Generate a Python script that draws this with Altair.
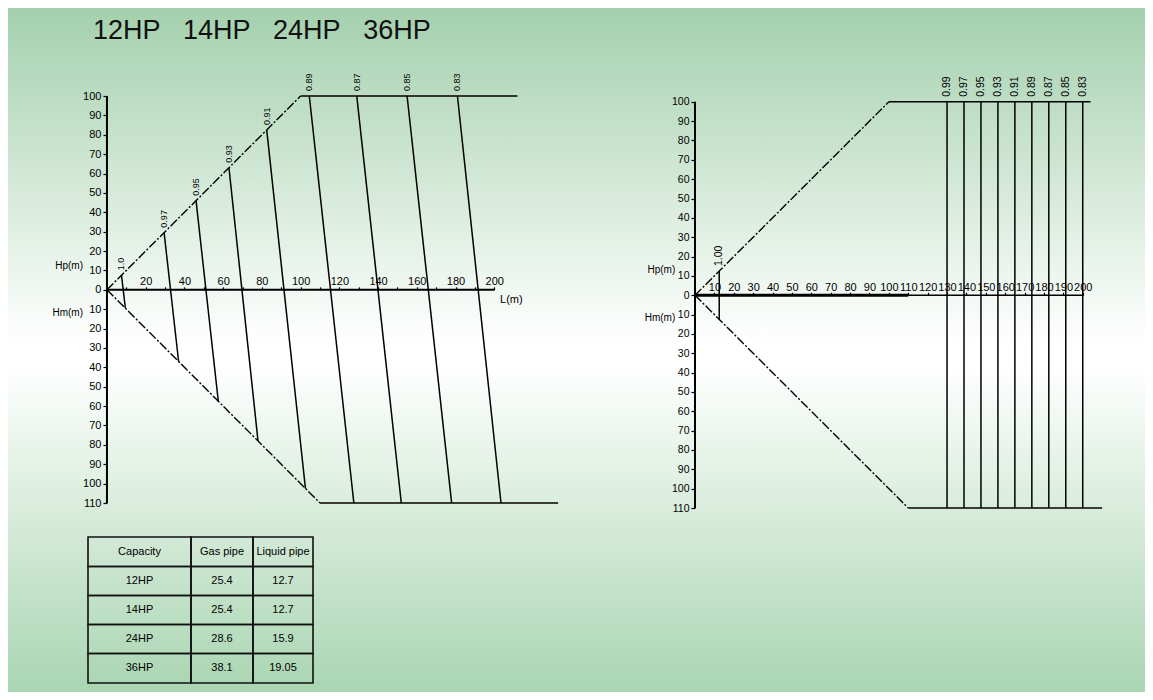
import altair as alt
import pandas as pd

FONT = "Liberation Sans"

# ---------------- data ----------------
TITLE_TEXT = "12HP\u00a0\u00a0\u00a014HP\u00a0\u00a0\u00a024HP\u00a0\u00a0\u00a036HP"

# left diagram: boundary polylines (L in m, Hp positive, Hm negative)
L_UP_X = [0, 100, 212]
L_UP_Y = [0, 100, 100]
L_LO_X = [0, 110, 233]
L_LO_Y = [0, -110, -110]
L_LABELS = ["1.0", "0.97", "0.95", "0.93", "0.91", "0.89", "0.87", "0.85", "0.83"]
L_TOP_X = [7.5, 29.5, 46, 63, 82.5, 104.5, 129, 155, 181]
L_TOP_Y = [7.5, 29.5, 46, 63, 82.5, 100, 100, 100, 100]
L_BOT_X = [9.5, 37, 57.5, 78, 102.5, 127.5, 152, 178, 203.5]
L_BOT_Y = [-9.5, -37, -57.5, -78, -102.5, -110, -110, -110, -110]

# right diagram
R_UP_X = [0, 100, 204]
R_UP_Y = [0, 100, 100]
R_LO_X = [0, 110, 210]
R_LO_Y = [0, -110, -110]
R_LABELS = ["1.00", "0.99", "0.97", "0.95", "0.93", "0.91", "0.89", "0.87", "0.85", "0.83"]
R_LINE_X = [12.5, 130, 138.75, 147.5, 156.25, 165, 173.75, 182.5, 191.25, 200]
R_TOP_Y = [12.5, 100, 100, 100, 100, 100, 100, 100, 100, 100]
R_BOT_Y = [-12.5, -110, -110, -110, -110, -110, -110, -110, -110, -110]

Y_TICKS = list(range(-110, 101, 10))
L_X_TICKS = list(range(0, 201, 10))
R_X_TICKS = list(range(0, 201, 10))

TABLE_HEAD = ["Capacity", "Gas pipe", "Liquid pipe"]
CAPACITY = ["12HP", "14HP", "24HP", "36HP"]
GAS_PIPE = ["25.4", "25.4", "28.6", "38.1"]
LIQUID_PIPE = ["12.7", "12.7", "15.9", "19.05"]

# ---------------- layout constants ----------------
LW, LH = 474, 407
RW, RH = 411, 412
L_XDOM = [-9.8, 235]
L_YDOM = [-110, 100]
R_XDOM = [0, 212]
R_YDOM = [-110, 103]
TW, TH = 225, 146
COL_EDGES = [0, 103, 165, 225]
ROW_EDGES = [0, 29.5, 58.5, 87.5, 116.5, 146]


def segs(xs, ys):
    rows = []
    for i in range(len(xs) - 1):
        rows.append(dict(x=xs[i], y=ys[i], x2=xs[i + 1], y2=ys[i + 1],
                         kind="diag" if ys[i] != ys[i + 1] else "flat"))
    return rows


common_axis = dict(domain=False, grid=False, title=None, tickColor="black",
                   tickWidth=1.2, labelColor="black", labelFont=FONT,
                   labelOverlap=False, labelFlush=False, zindex=1)


def make_panel(width, height, xdom, ydom, x_axis, y_axis, bound_df, lines_df,
               label_size, axis_lines_df, ann_right_df, ann_left_df, extra=None):
    xs = alt.Scale(domain=xdom, nice=False, zero=False)
    ys = alt.Scale(domain=ydom, nice=False, zero=False)

    def X(f):
        return alt.X(f, type="quantitative", scale=xs, axis=x_axis)

    def Y(f):
        return alt.Y(f, type="quantitative", scale=ys, axis=y_axis)

    layers = []
    if extra is not None:
        layers.extend(extra["before"])
    diag = alt.Chart(bound_df).transform_filter(alt.datum.kind == "diag").mark_rule(
        color="black", strokeWidth=1.4, strokeDash=[9, 2, 2, 2]
    ).encode(x=X("x"), y=Y("y"), x2="x2", y2="y2")
    flat = alt.Chart(bound_df).transform_filter(alt.datum.kind == "flat").mark_rule(
        color="black", strokeWidth=1.5
    ).encode(x=X("x"), y=Y("y"), x2="x2", y2="y2")
    lines = alt.Chart(lines_df).mark_rule(color="black", strokeWidth=1.5).encode(
        x=X("tx"), y=Y("ty"), x2="bx", y2="by")
    labels = alt.Chart(lines_df).mark_text(
        angle=270, align="left", baseline="middle", dx=5, fontSize=label_size,
        color="black", font=FONT
    ).encode(x=X("tx"), y=Y("ty"), text="label:N")
    axl = alt.Chart(axis_lines_df).mark_rule(color="black").encode(
        x=X("x"), y=Y("y"), x2="x2", y2="y2",
        strokeWidth=alt.StrokeWidth("w:Q", scale=None))
    annR = alt.Chart(ann_right_df).mark_text(
        align="right", baseline="middle", fontSize=10, color="black", font=FONT
    ).encode(x=X("x"), y=Y("y"), text="t:N")
    layers += [diag, flat, lines, labels, axl, annR]
    if ann_left_df is not None:
        annL = alt.Chart(ann_left_df).mark_text(
            align="left", baseline="middle", fontSize=11, color="black", font=FONT
        ).encode(x=X("x"), y=Y("y"), text="t:N")
        layers.append(annL)
    return alt.layer(*layers).properties(width=width, height=height)


# ---------------- left panel ----------------
l_y_off = -LW * (0 - L_XDOM[0]) / (L_XDOM[1] - L_XDOM[0])
l_x_off = -LH * (L_YDOM[1] - 0) / (L_YDOM[1] - L_YDOM[0])
ya_L = alt.Axis(orient="left", offset=l_y_off, values=Y_TICKS,
                labelExpr="'' + abs(datum.value)", tickSize=4, labelPadding=2,
                labelFontSize=11, **common_axis)
xa_L = alt.Axis(orient="top", offset=l_x_off, values=L_X_TICKS,
                labelExpr="datum.value > 0 && datum.value % 20 == 0 ? '' + datum.value : ''",
                tickSize=3, labelPadding=0, labelFontSize=11, **common_axis)

bound_L = pd.DataFrame(segs(L_UP_X, L_UP_Y) + segs(L_LO_X, L_LO_Y))
lines_L = pd.DataFrame(dict(label=L_LABELS, tx=L_TOP_X, ty=L_TOP_Y, bx=L_BOT_X, by=L_BOT_Y))
axis_lines_L = pd.DataFrame([
    dict(x=0, y=-110, x2=0, y2=100, w=2),
    dict(x=0, y=0, x2=200, y2=0, w=2),
])
ann_R_L = pd.DataFrame(dict(t=["Hp(m)", "Hm(m)"], x=[-12.4, -12.4], y=[12.4, -11.9]))
ann_L_L = pd.DataFrame(dict(t=["L(m)"], x=[203], y=[-5.5]))

gradient = alt.Gradient(
    gradient="linear",
    stops=[alt.GradientStop(color="#a4d0ad", offset=0),
           alt.GradientStop(color="#ffffff", offset=0.49),
           alt.GradientStop(color="#ffffff", offset=0.52),
           alt.GradientStop(color="#a9d5b1", offset=1)],
    x1=0, x2=0, y1=0, y2=1)
bg = alt.Chart(pd.DataFrame({"a": [0]})).mark_rect(fill=gradient).encode(
    x=alt.value(-80), x2=alt.value(1057), y=alt.value(-88), y2=alt.value(596))
title = alt.Chart(pd.DataFrame({"t": [TITLE_TEXT]})).mark_text(
    align="left", baseline="alphabetic", fontSize=27, color="#111111", font=FONT
).encode(x=alt.value(5), y=alt.value(-57), text="t:N")

left = make_panel(LW, LH, L_XDOM, L_YDOM, xa_L, ya_L, bound_L, lines_L, 9,
                  axis_lines_L, ann_R_L, ann_L_L, extra={"before": [bg, title]})

# ---------------- right panel ----------------
r_x_off = -RH * (R_YDOM[1] - 0) / (R_YDOM[1] - R_YDOM[0])
ya_R = alt.Axis(orient="left", offset=0, values=Y_TICKS,
                labelExpr="'' + abs(datum.value)", tickSize=4, labelPadding=2,
                labelFontSize=10.5, **common_axis)
xa_R = alt.Axis(orient="top", offset=r_x_off, values=R_X_TICKS,
                labelExpr="datum.value > 0 ? '' + datum.value : ''",
                tickSize=3, labelPadding=0, labelFontSize=11, **common_axis)

bound_R = pd.DataFrame(segs(R_UP_X, R_UP_Y) + segs(R_LO_X, R_LO_Y))
lines_R = pd.DataFrame(dict(label=R_LABELS, tx=R_LINE_X, ty=R_TOP_Y, bx=R_LINE_X, by=R_BOT_Y))
axis_lines_R = pd.DataFrame([
    dict(x=0, y=-110, x2=0, y2=100, w=2),
    dict(x=0, y=0, x2=110, y2=0, w=3),
    dict(x=110, y=0, x2=200, y2=0, w=1.5),
])
ann_R_R = pd.DataFrame(dict(t=["Hp(m)", "Hm(m)"], x=[-10.2, -10.2], y=[12.9, -11.9]))

right = make_panel(RW, RH, R_XDOM, R_YDOM, xa_R, ya_R, bound_R, lines_R, 10.5,
                   axis_lines_R, ann_R_R, None)

# ---------------- table ----------------
rows_text = [TABLE_HEAD] + [list(r) for r in zip(CAPACITY, GAS_PIPE, LIQUID_PIPE)]
cells = []
for r, row in enumerate(rows_text):
    for c, txt in enumerate(row):
        cells.append(dict(t=txt, x=COL_EDGES[c], x2=COL_EDGES[c + 1],
                          y=ROW_EDGES[r], y2=ROW_EDGES[r + 1],
                          xc=(COL_EDGES[c] + COL_EDGES[c + 1]) / 2,
                          yc=(ROW_EDGES[r] + ROW_EDGES[r + 1]) / 2))
cells = pd.DataFrame(cells)
tx = alt.Scale(domain=[0, TW], nice=False, zero=False)
ty = alt.Scale(domain=[0, TH], nice=False, zero=False, reverse=True)
t_rect = alt.Chart(cells).mark_rect(fillOpacity=0, stroke="#111111", strokeWidth=1.6).encode(
    x=alt.X("x:Q", scale=tx, axis=None), x2="x2",
    y=alt.Y("y:Q", scale=ty, axis=None), y2="y2")
t_text = alt.Chart(cells).mark_text(fontSize=11, color="black", font=FONT,
                                    baseline="middle", align="center").encode(
    x=alt.X("xc:Q", scale=tx, axis=None), y=alt.Y("yc:Q", scale=ty, axis=None), text="t:N")
table = alt.layer(t_rect, t_text).properties(width=TW, height=TH)

chart = alt.concat(left, right, table, columns=2,
                   spacing={"row": 29, "column": 133}, bounds="flush").properties(
    padding=0
).configure(font=FONT).configure_view(stroke=None, fill=None, strokeWidth=0)

chart.save("out.html", embed_options={"renderer": "svg", "actions": False})
